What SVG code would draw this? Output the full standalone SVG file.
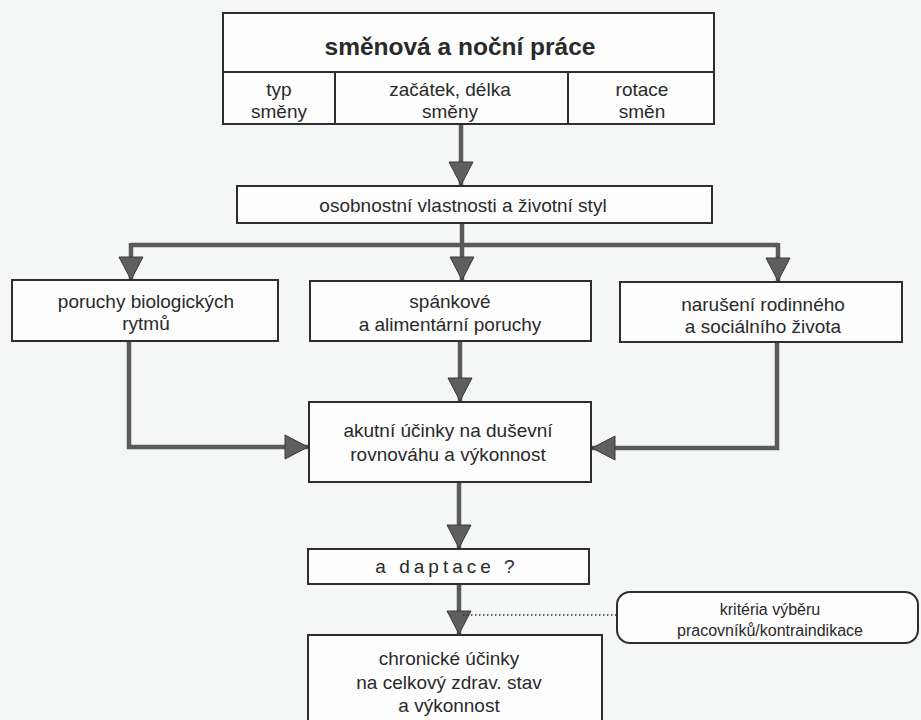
<svg xmlns="http://www.w3.org/2000/svg" width="921" height="720" viewBox="0 0 921 720">
  <defs>
    <style>
      .box { fill: #fdfdfd; stroke: #2e2e2e; stroke-width: 2; }
      .div { stroke: #2e2e2e; stroke-width: 2; fill: none; }
      .t { font-family: "Liberation Sans", Arial, sans-serif; font-size: 19px; fill: #2a2a2a; text-anchor: middle; }
      .title { font-family: "Liberation Sans", Arial, sans-serif; font-size: 24.5px; font-weight: bold; fill: #2a2a2a; text-anchor: middle; }
      .small { font-size: 16px; }
      .con { fill: none; stroke: #5a5a5a; stroke-width: 4.5; }
      .dot { fill: none; stroke: #333; stroke-width: 1.6; stroke-dasharray: 1.5 2.5; }
    </style>
    <marker id="ah" markerUnits="userSpaceOnUse" markerWidth="28" markerHeight="28" refX="24" refY="13" orient="auto">
      <path d="M1,1 L24,13 L1,25 z" fill="#5e5e5e" stroke="#3a3a3a" stroke-width="1"/>
    </marker>
  </defs>
  <rect x="0" y="0" width="921" height="720" fill="#f5f7f6"/>

  <g id="connectors">
    <path class="con" d="M461,125 V185" marker-end="url(#ah)"/>
    <path class="con" d="M462,223 V280" marker-end="url(#ah)"/>
    <path class="con" d="M131,245 H778"/>
    <path class="con" d="M131,243 V280" marker-end="url(#ah)"/>
    <path class="con" d="M778,243 V281" marker-end="url(#ah)"/>
    <path class="con" d="M129,341 V447 H308" marker-end="url(#ah)"/>
    <path class="con" d="M460,341 V401" marker-end="url(#ah)"/>
    <path class="con" d="M777,342 V448 H592" marker-end="url(#ah)"/>
    <path class="con" d="M459,482 V548" marker-end="url(#ah)"/>
    <path class="con" d="M459,584 V634" marker-end="url(#ah)"/>
    <path class="dot" d="M463,615 H617"/>
  </g>

  <g id="smenova-prace">
    <rect class="box" x="223" y="13" width="491" height="111"/>
    <path class="div" d="M223,72 H714 M335,72 V124 M568,72 V124"/>
    <text class="title" x="460" y="55">směnová a noční  práce</text>
    <text class="t" x="279" y="96">typ</text>
    <text class="t" x="279" y="118">směny</text>
    <text class="t" x="450" y="96">začátek, délka</text>
    <text class="t" x="450" y="118">směny</text>
    <text class="t" x="642" y="96">rotace</text>
    <text class="t" x="642" y="118">směn</text>
  </g>

  <g id="osobnostni">
    <rect class="box" x="237" y="186" width="475" height="37"/>
    <text class="t" x="463" y="212">osobnostní vlastnosti a životní styl</text>
  </g>

  <g id="biologicke">
    <rect class="box" x="12" y="280" width="266" height="61"/>
    <text class="t" x="146" y="308">poruchy biologických</text>
    <text class="t" x="146" y="330">rytmů</text>
  </g>

  <g id="spankove">
    <rect class="box" x="310" y="281" width="281" height="60"/>
    <text class="t" x="450" y="308">spánkové</text>
    <text class="t" x="450" y="331">a alimentární poruchy</text>
  </g>

  <g id="rodinne">
    <rect class="box" x="620" y="282" width="282" height="60"/>
    <text class="t" x="763" y="311">narušení rodinného</text>
    <text class="t" x="763" y="333">a sociálního života</text>
  </g>

  <g id="akutni">
    <rect class="box" x="309" y="402" width="282" height="80"/>
    <text class="t" x="448" y="437">akutní účinky na duševní</text>
    <text class="t" x="448" y="461">rovnováhu a výkonnost</text>
  </g>

  <g id="adaptace">
    <rect class="box" x="308" y="549" width="281" height="35"/>
    <text class="t" x="447" y="573" letter-spacing="4">a daptace ?</text>
  </g>

  <g id="kriteria">
    <rect class="box" x="617" y="592" width="301" height="51" rx="13"/>
    <text class="t small" x="770" y="615">kritéria výběru</text>
    <text class="t small" x="770" y="636">pracovníků/kontraindikace</text>
  </g>

  <g id="chronicke">
    <rect class="box" x="308" y="635" width="294" height="100"/>
    <text class="t" x="449" y="665">chronické účinky</text>
    <text class="t" x="449" y="689">na celkový zdrav. stav</text>
    <text class="t" x="449" y="712">a výkonnost</text>
  </g>
</svg>
